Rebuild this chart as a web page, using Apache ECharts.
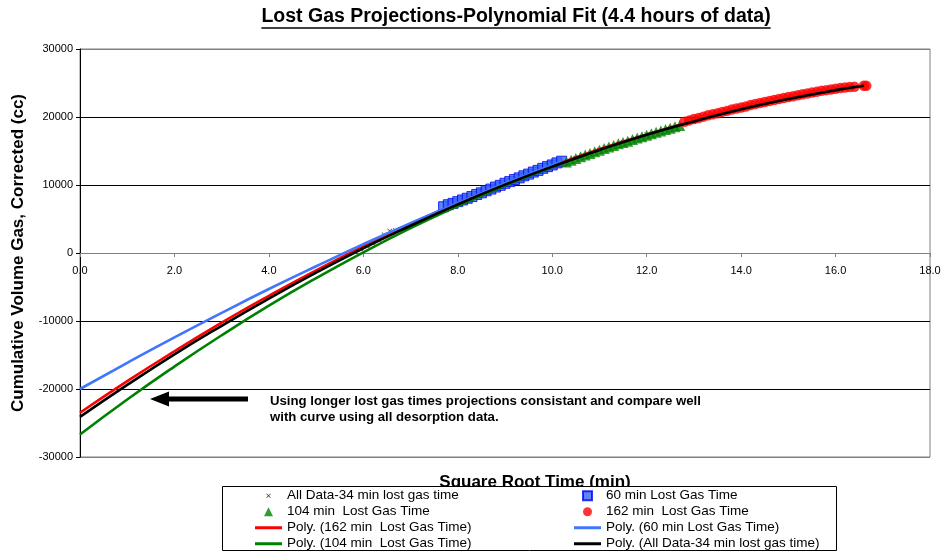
<!DOCTYPE html>
<html>
<head>
<meta charset="utf-8">
<script src="https://cdn.jsdelivr.net/npm/echarts@6/dist/echarts.min.js"></script>
<style>
  html, body { margin: 0; padding: 0; background: #fff; }
  #chart { width: 943px; height: 553px; }
</style>
</head>
<body>
<div id="chart"></div>
<script>
// ---- Measured desorption points (x = square root of time, min^0.5; y = cumulative gas, cc) ----
const allDataX = [5.83, 5.95, 6.08, 6.20, 6.32, 6.44, 6.56, 6.68, 6.80, 6.92, 7.04, 7.16, 7.28, 7.40, 7.52, 7.64,
                  8.0, 8.5, 9.0, 9.5, 10.0, 10.5, 11.0, 11.5, 12.0, 12.5, 13.0, 13.5, 14.0, 14.5, 15.0, 15.5, 16.0, 16.6];
const allDataY = [150, 600, 1050, 1500, 2000, 2700, 3250, 3300, 3450, 3800, 4200, 4550, 4950, 5300, 5700, 6100,
                  7200, 8600, 10050, 11400, 12700, 13950, 15150, 16300, 17400, 18400, 19350, 20250, 21100, 21900, 22650, 23300, 23950, 24600];

const min60X = [7.7, 7.8, 7.9, 8.0, 8.1, 8.2, 8.3, 8.4, 8.5, 8.6, 8.7, 8.8, 8.9,
                9.0, 9.1, 9.2, 9.3, 9.4, 9.5, 9.6, 9.7, 9.8, 9.9, 10.0, 10.1, 10.2];
const min60Y = [6800, 7100, 7300, 7550, 7800, 8050, 8300, 8600, 8850, 9150, 9400, 9700, 9950,
                10250, 10500, 10800, 11050, 11350, 11600, 11900, 12150, 12450, 12700, 12950, 13250, 13500];

const min104X = [10.3, 10.4, 10.5, 10.6, 10.7, 10.8, 10.9, 11.0, 11.1, 11.2, 11.3, 11.4, 11.5,
                 11.6, 11.7, 11.8, 11.9, 12.0, 12.1, 12.2, 12.3, 12.4, 12.5, 12.6, 12.7];
const min104Y = [13400, 13650, 13900, 14150, 14400, 14650, 14900, 15100, 15350, 15600, 15800, 16050, 16250,
                 16450, 16700, 16900, 17100, 17300, 17550, 17750, 17950, 18150, 18350, 18550, 18750];

const min162X = [12.8, 12.9, 13.0, 13.1, 13.2, 13.3, 13.4, 13.5, 13.6, 13.7, 13.8, 13.9, 14.0, 14.1, 14.2, 14.3,
                 14.4, 14.5, 14.6, 14.7, 14.8, 14.9, 15.0, 15.1, 15.2, 15.3, 15.4, 15.5, 15.6, 15.7, 15.8, 15.9,
                 16.0, 16.1, 16.2, 16.3, 16.4, 16.6, 16.65];
const min162Y = [19300, 19500, 19700, 19850, 20050, 20250, 20400, 20550, 20750, 20900, 21100, 21250, 21400, 21550, 21750, 21900,
                 22050, 22200, 22350, 22500, 22650, 22800, 22950, 23050, 23200, 23350, 23450, 23600, 23700, 23850, 23950, 24050,
                 24150, 24250, 24350, 24400, 24450, 24600, 24600];

// ---- Polynomial trendlines, projected back to zero time ----
const poly162X = [0, 1, 2, 3, 4, 5, 6, 7, 8, 9, 10, 11, 12, 13, 14, 15, 16, 16.6];
const poly162Y = [-23500, -18850, -14450, -10250, -6300, -2550, 950, 4250, 7350, 10200, 12800, 15250, 17400, 19400, 21100, 22650, 23900, 24600];

const poly60X = [0, 1, 2, 3, 4, 5, 6, 7, 8, 9, 10, 10.2];
const poly60Y = [-20000, -16150, -12400, -8800, -5300, -1950, 1300, 4400, 7350, 10250, 12950, 13500];

const poly104X = [0, 1, 2, 3, 4, 5, 6, 7, 8, 9, 10, 11, 12, 12.7];
const poly104Y = [-26700, -21550, -16700, -12100, -7750, -3700, 100, 3650, 6900, 9900, 12650, 15100, 17300, 18700];

const polyAllX = [0, 1, 2, 3, 4, 5, 6, 7, 8, 9, 10, 11, 12, 13, 14, 15, 16, 16.6];
const polyAllY = [-24100, -19400, -14900, -10700, -6700, -2900, 700, 4000, 7150, 10050, 12700, 15150, 17400, 19350, 21150, 22650, 23950, 24600];

// ---- Axis ticks ----
const xMin = 0, xMax = 18, xStep = 2;
const yMin = -30000, yMax = 30000, yStep = 10000;

const FONT = '"Liberation Sans", Arial, Helvetica, sans-serif';
const titleText = 'Lost Gas Projections-Polynomial Fit (4.4 hours of data)';
const noteLines = ['Using longer lost gas times projections consistant and compare well',
                   'with curve using all desorption data.'];

const NAME_ALL = 'All Data-34 min lost gas time';
const NAME_60 = '60 min Lost Gas Time';
const NAME_104 = '104 min  Lost Gas Time';
const NAME_162 = '162 min  Lost Gas Time';
const NAME_P162 = 'Poly. (162 min  Lost Gas Time)';
const NAME_P60 = 'Poly. (60 min Lost Gas Time)';
const NAME_P104 = 'Poly. (104 min  Lost Gas Time)';
const NAME_PALL = 'Poly. (All Data-34 min lost gas time)';

const zip = (xs, ys) => xs.map((x, i) => [x, ys[i]]);

// Width of the title, for the underline
const measureCtx = document.createElement('canvas').getContext('2d');
measureCtx.font = 'bold 19.5px ' + FONT;
const titleW = measureCtx.measureText(titleText).width;
const titleCx = 516;

// Marker shapes
const crossPath = 'path://M0,0 M20,20 M5,6 L6,5 L10,9 L14,5 L15,6 L11,10 L15,14 L14,15 L10,11 L6,15 L5,14 L9,10 Z';
const squareIcon = 'path://M0,0H10V10H0Z';
const triangleIcon = 'path://M5,0L10,10H0Z';
const lineIcon = 'path://M0,0H27V3H0Z';

// Plot frame geometry
const gridTop = 49, gridBottom = 96, chartH = 553;
const plotH = chartH - gridTop - gridBottom;
const zeroOffset = -plotH * (0 - yMin) / (yMax - yMin); // lifts the x axis onto y = 0

const chart = echarts.init(document.getElementById('chart'), null, { renderer: 'canvas' });

// y split lines: gray for the frame and the zero line, black elsewhere
const splitColors = ['#808080', '#000000', '#000000', '#808080', '#000000', '#000000', '#808080'];

const lineSeries = (name, xs, ys, color) => ({
  name, type: 'line', data: zip(xs, ys), smooth: true, symbol: 'none', showSymbol: false,
  lineStyle: { color, width: 2.6 }, itemStyle: { color }, z: 5
});

const legendText = { fontFamily: FONT, fontSize: 13.5, color: '#000', lineHeight: 15.5 };

chart.setOption({
  animation: false,
  backgroundColor: '#ffffff',
  title: {
    text: titleText,
    left: titleCx - titleW / 2, top: 7, padding: 0,
    textStyle: { fontFamily: FONT, fontSize: 19.5, fontWeight: 'bold', color: '#000' }
  },
  grid: {
    left: 80, right: 13, top: gridTop, bottom: gridBottom,
    containLabel: false, outerBoundsMode: 'none',
    show: true, borderColor: '#808080', borderWidth: 1, backgroundColor: 'transparent'
  },
  xAxis: {
    type: 'value', min: xMin, max: xMax, interval: xStep,
    position: 'bottom', offset: zeroOffset,
    axisLine: { show: true, onZero: false, lineStyle: { color: '#808080', width: 1 } },
    axisTick: { show: true, length: 4, lineStyle: { color: '#808080' } },
    axisLabel: { margin: 12, fontFamily: FONT, fontSize: 11, color: '#000', formatter: v => v.toFixed(1) },
    splitLine: { show: false }
  },
  yAxis: {
    type: 'value', min: yMin, max: yMax, interval: yStep,
    name: 'Cumulative Volume Gas, Corrected (cc)',
    nameLocation: 'middle', nameRotate: 90, nameGap: 53,
    nameTextStyle: { fontFamily: FONT, fontSize: 17, fontWeight: 'bold', color: '#000' },
    axisLine: { show: true, onZero: false, lineStyle: { color: '#000', width: 1 } },
    axisTick: { show: true, length: 4, lineStyle: { color: '#000' } },
    axisLabel: { margin: 7, fontFamily: FONT, fontSize: 11, color: '#000', formatter: v => String(v) },
    splitLine: { show: true, lineStyle: { color: splitColors, width: 1 } }
  },
  legend: [
    {
      data: [
        { name: NAME_ALL, icon: crossPath },
        { name: NAME_104, icon: triangleIcon },
        { name: NAME_P162, icon: lineIcon },
        { name: NAME_P104, icon: lineIcon }
      ],
      orient: 'vertical', left: 255, top: 488, itemWidth: 27, itemHeight: 9, itemGap: 0.5,
      selectedMode: false, z: 20, padding: 0, textStyle: legendText
    },
    {
      data: [
        { name: NAME_60, icon: squareIcon },
        { name: NAME_162, icon: 'circle' },
        { name: NAME_P60, icon: lineIcon },
        { name: NAME_PALL, icon: lineIcon }
      ],
      orient: 'vertical', left: 574, top: 488, itemWidth: 27, itemHeight: 9, itemGap: 0.5,
      selectedMode: false, z: 20, padding: 0, textStyle: legendText
    }
  ],
  graphic: [
    { type: 'line', z: 30, shape: { x1: titleCx - titleW / 2, y1: 28, x2: titleCx + titleW / 2, y2: 28 }, style: { stroke: '#000', lineWidth: 1.6 } },
    { type: 'text', z: 1, x: 535, y: 482, style: { text: 'Square Root Time (min)', fontFamily: FONT, fontSize: 17, fontWeight: 'bold', fill: '#000', align: 'center', verticalAlign: 'middle' } },
    { type: 'rect', z: 10, shape: { x: 222.5, y: 486.5, width: 614, height: 64 }, style: { fill: '#fff', stroke: '#000', lineWidth: 1 } },
    { type: 'polygon', z: 30, shape: { points: [[150, 399], [169, 391.5], [169, 396.5], [248, 396.5], [248, 401.5], [169, 401.5], [169, 406.5]] }, style: { fill: '#000' } },
    { type: 'text', z: 30, x: 270, y: 393, style: { text: noteLines.join('\n'), fontFamily: FONT, fontSize: 13.2, fontWeight: 'bold', fill: '#000', lineHeight: 16 } }
  ],
  series: [
    { name: NAME_ALL, type: 'scatter', data: zip(allDataX, allDataY), symbol: crossPath, symbolSize: 10,
      itemStyle: { color: '#000' }, z: 2 },
    { name: NAME_60, type: 'scatter', data: zip(min60X, min60Y), symbol: 'rect', symbolSize: 10,
      itemStyle: { color: '#3366FF', borderColor: '#0000EE', borderWidth: 1 }, z: 3 },
    { name: NAME_104, type: 'scatter', data: zip(min104X, min104Y), symbol: 'triangle', symbolSize: 11,
      itemStyle: { color: '#008000' }, z: 3 },
    { name: NAME_162, type: 'scatter', data: zip(min162X, min162Y), symbol: 'circle', symbolSize: 10.5,
      itemStyle: { color: '#FF0000' }, z: 3 },
    lineSeries(NAME_P162, poly162X, poly162Y, '#FF0000'),
    lineSeries(NAME_P60, poly60X, poly60Y, '#3F75FF'),
    lineSeries(NAME_P104, poly104X, poly104Y, '#008000'),
    lineSeries(NAME_PALL, polyAllX, polyAllY, '#000000')
  ]
});
</script>
</body>
</html>
